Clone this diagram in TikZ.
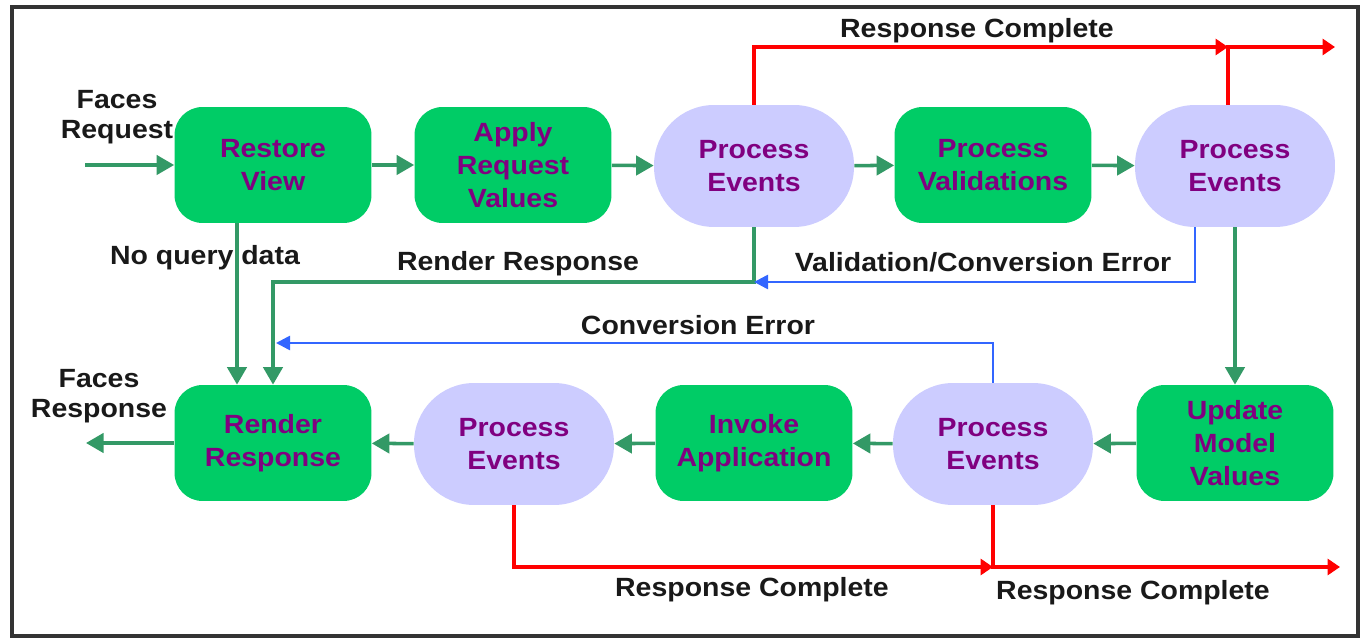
\documentclass[tikz,border=0pt]{standalone}
\usepackage{fontspec}
\setmainfont{Liberation Sans}[FakeStretch=1.08]
\usetikzlibrary{arrows.meta}
\definecolor{phasegreen}{RGB}{0,204,102}
\definecolor{evtlilac}{RGB}{204,204,255}
\definecolor{txtpurple}{RGB}{128,0,128}
\definecolor{flowgreen}{RGB}{51,153,102}
\definecolor{errblue}{RGB}{51,102,255}
\definecolor{donered}{RGB}{255,0,0}
\tikzset{
  phase/.style={fill=phasegreen, rounded corners=0.56cm, minimum width=3.94cm, minimum height=2.32cm,
    inner sep=0pt, align=center, text=txtpurple, font=\fontsize{15}{18.8}\selectfont\bfseries},
  evt/.style={phase, fill=evtlilac, rounded corners=1.2cm, minimum width=4cm, minimum height=2.44cm},
  lbl/.style={font=\fontsize{15}{17}\selectfont\bfseries, text=black!90, align=center, inner sep=0pt},
  flow/.style={draw=flowgreen, line width=2pt, -{Triangle[length=10pt,width=11pt]}},
  errflow/.style={draw=errblue, line width=1.5pt, -{Triangle[length=8pt,width=8pt]}},
  doneflow/.style={draw=donered, line width=1.8pt, -{Triangle[length=7pt,width=9pt]}},
}
\begin{document}
\begin{tikzpicture}[x=0.02cm, y=-0.02cm]
    \useasboundingbox (0,0) rectangle (1363,641);
    \draw[line width=1.8pt, draw=black!80] (12,7) rectangle (1358,636);

    \node[phase] (rv) at (273,165) {Restore\\View};
    \node[phase] (arv) at (513,165) {Apply\\Request\\Values};
    \node[evt] (pe1) at (754,166) {Process\\Events};
    \node[phase] (pv) at (993,165) {Process\\Validations};
    \node[evt] (pe2) at (1235,166) {Process\\Events};

    \node[phase] (rr) at (273,443) {Render\\Response};
    \node[evt] (pe3) at (514,444) {Process\\Events};
    \node[phase] (ia) at (754,443) {Invoke\\Application};
    \node[evt] (pe4) at (993,444) {Process\\Events};
    \node[phase] (umv) at (1235,443) {Update\\Model\\Values};

    \coordinate (freq) at (85,165);
    \coordinate (fresp) at (86,443);
    \coordinate (nq) at (237,0);
    \coordinate (rrk) at (273,282);
    \coordinate (vce) at (1195,0);
    \coordinate (cek) at (276,343);
    \coordinate (rtop) at (0,47);
    \coordinate (rx) at (1228,0);
    \coordinate (rend) at (1335,47);
    \coordinate (rbot) at (0,567);
    \coordinate (rend2) at (1340,567);

    \node[lbl] (lfreq) at (117,117) {Faces\\Request};
    \node[lbl] (lfresp) at (99,396) {Faces\\Response};
    \node[lbl, anchor=base] (lnq) at (205,265) {No query data};
    \node[lbl, anchor=base] (lrr) at (518,271) {Render Response};
    \node[lbl, anchor=base] (lvce) at (983,272) {Validation/Conversion Error};
    \node[lbl, anchor=base] (lce) at (698,335) {Conversion Error};
    \node[lbl, anchor=base] (lrc1) at (977,38) {Response Complete};
    \node[lbl, anchor=base] (lrc2) at (752,597) {Response Complete};
    \node[lbl, anchor=base] (lrc3) at (1133,600) {Response Complete};

    \draw[flow] (freq) -- (rv);
    \draw[flow] (rv) -- (arv);
    \draw[flow] (arv) -- (pe1);
    \draw[flow] (pe1) -- (pv);
    \draw[flow] (pv) -- (pe2);
    \draw[flow] (pe2) -- (umv);
    \draw[flow] (umv) -- (pe4);
    \draw[flow] (pe4) -- (ia);
    \draw[flow] (ia) -- (pe3);
    \draw[flow] (pe3) -- (rr);
    \draw[flow] (rr) -- (fresp);

    \draw[flow] (rv.south -| nq) -- (rr.north -| nq);
    \draw[flow] (pe1.south) |- (rrk) -- (rr.north);
    \draw[errflow] (pe2.south -| vce) |- (pe1.south |- rrk);
    \draw[errflow] (pe4.north) |- (cek);

    \draw[doneflow] (pe1.north) |- (rtop -| rx);
    \draw[doneflow] (pe2.north -| rx) |- (rend);
    \draw[doneflow] (pe3.south) |- (rbot -| pe4.south);
    \draw[doneflow] (pe4.south) |- (rend2);
\end{tikzpicture}
\end{document}
